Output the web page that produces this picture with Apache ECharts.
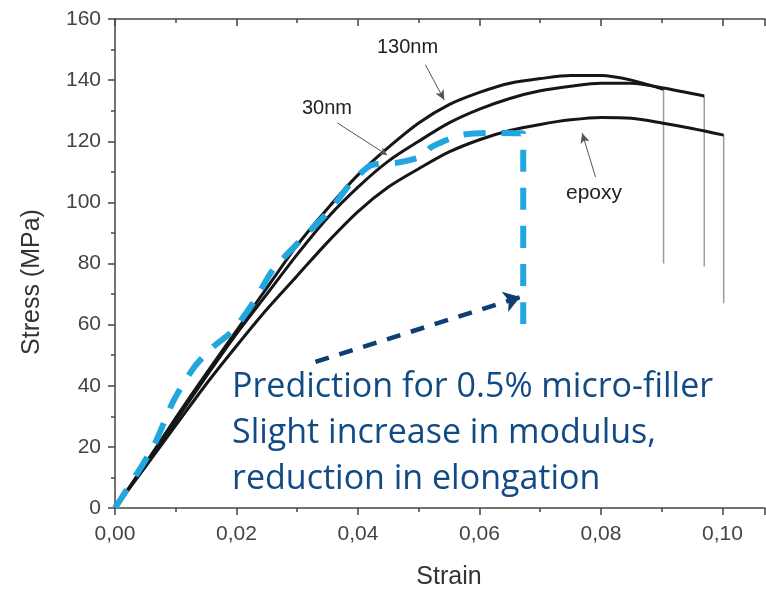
<!DOCTYPE html>
<html>
<head>
<meta charset="utf-8">
<script src="https://cdn.jsdelivr.net/npm/echarts@6/dist/echarts.min.js"></script>
<style>
  html, body { margin: 0; padding: 0; background: #fff; }
  #main { width: 766px; height: 590px; }
</style>
</head>
<body>
<div id="main"></div>
<script>
// measured curves (strain, MPa)
var nm130Strain = [0, 0.005, 0.01, 0.015, 0.02, 0.025, 0.03, 0.035, 0.04, 0.045, 0.05, 0.055, 0.06, 0.065, 0.07, 0.075, 0.08, 0.085, 0.0903]
var nm130Stress = [0, 14.5, 29.5, 44, 58, 72, 86, 98, 109, 118, 126, 132, 136, 139, 140.5, 141.5, 141.5, 140, 137]

var nm30Strain = [0, 0.005, 0.01, 0.015, 0.02, 0.025, 0.03, 0.035, 0.04, 0.045, 0.05, 0.055, 0.06, 0.065, 0.07, 0.075, 0.08, 0.085, 0.09, 0.097]
var nm30Stress = [0, 14, 28.5, 43, 57, 70, 83, 95, 105, 113.5, 120, 126, 130.5, 134, 136.5, 138, 139, 139, 137.5, 134.8]

var epoxyStrain = [0, 0.005, 0.01, 0.015, 0.02, 0.025, 0.03, 0.035, 0.04, 0.045, 0.05, 0.055, 0.06, 0.065, 0.07, 0.075, 0.08, 0.085, 0.09, 0.095, 0.1002]
var epoxyStress = [0, 13.5, 27, 40.5, 53, 65, 76, 87, 97, 105, 111, 116.5, 120.5, 123.5, 125.5, 127, 127.8, 127.5, 126, 124.2, 122]

// failure drop lines: strain, top, bottom
var dropStrain = [0.0903, 0.097, 0.1002]
var dropTop = [137, 134.8, 122]
var dropBottom = [80, 79, 67]

// prediction (dashed blue)
var predStrain = [0, 0.0063, 0.0096, 0.013, 0.016, 0.0194, 0.0227, 0.026, 0.031, 0.0354, 0.0387, 0.042, 0.0465, 0.0505, 0.052, 0.0568, 0.0613, 0.0672, 0.0672]
var predStress = [0, 20, 35, 46, 52.5, 58, 67, 78, 88.5, 97.5, 106, 112, 113, 115, 118, 122, 122.7, 122.5, 56]

var xTicks = [0, 0.02, 0.04, 0.06, 0.08, 0.10]
var yTicks = [0, 20, 40, 60, 80, 100, 120, 140, 160]

function pairs(xs, ys) {
  return xs.map(function (x, i) { return [x, ys[i]] })
}

var dropData = []
dropStrain.forEach(function (x, i) {
  dropData.push([x, dropTop[i]], [x, dropBottom[i]], [null, null])
})

var myChart = echarts.init(document.getElementById('main'))
var axisColor = '#444'
var labelFont = 'Liberation Sans'

var option = {
  animation: false,
  grid: { left: 115, right: 1, top: 19, bottom: 82 },
  xAxis: [{
    type: 'value',
    min: 0,
    max: 0.107,
    interval: 0.02,
    axisLine: { lineStyle: { color: axisColor, width: 1.5 } },
    axisTick: { length: 7, lineStyle: { color: axisColor, width: 1.5 } },
    minorTick: { show: true, splitNumber: 2, length: 4, lineStyle: { color: axisColor, width: 1.5 } },
    splitLine: { show: false },
    axisLabel: {
      showMaxLabel: false,
      margin: 16,
      fontSize: 21,
      color: '#444',
      fontFamily: labelFont,
      formatter: function (v) {
        if (xTicks.indexOf(Math.round(v * 100) / 100) < 0) return ''
        return v.toFixed(2).replace('.', ',')
      }
    }
  }, {
    type: 'value',
    position: 'top',
    min: 0,
    max: 0.107,
    interval: 0.02,
    axisLine: { lineStyle: { color: axisColor, width: 1.5 } },
    axisTick: { inside: true, length: 7, lineStyle: { color: axisColor, width: 1.5 } },
    minorTick: { show: true, splitNumber: 2, length: 4, lineStyle: { color: axisColor, width: 1.5 } },
    splitLine: { show: false },
    axisLabel: { show: false }
  }],
  yAxis: {
    type: 'value',
    min: 0,
    max: 160,
    interval: 20,
    axisLine: { show: true, lineStyle: { color: axisColor, width: 1.5 } },
    axisTick: { show: true, length: 7, lineStyle: { color: axisColor, width: 1.5 } },
    minorTick: { show: true, splitNumber: 2, length: 4, lineStyle: { color: axisColor, width: 1.5 } },
    splitLine: { show: false },
    axisLabel: {
      margin: 14,
      fontSize: 21,
      color: '#444',
      fontFamily: labelFont,
      formatter: function (v) { return yTicks.indexOf(v) >= 0 ? String(v) : '' }
    }
  },
  series: [
    {
      name: 'drop',
      type: 'line',
      data: dropData,
      connectNulls: false,
      showSymbol: false,
      lineStyle: { color: '#9c9c9c', width: 1.5 },
      z: 1
    },
    {
      name: '130nm',
      type: 'line',
      smooth: 0.3,
      data: pairs(nm130Strain, nm130Stress),
      showSymbol: false,
      lineStyle: { color: '#161616', width: 3 },
      markLine: {
        silent: true,
        symbol: ['none', 'arrow'],
        symbolSize: [7, 10],
        label: { show: false },
        lineStyle: { color: '#555', width: 1, type: 'solid' },
        data: [[{ coord: [0.0511, 145] }, { coord: [0.0542, 133.5] }]]
      }
    },
    {
      name: '30nm',
      type: 'line',
      smooth: 0.3,
      data: pairs(nm30Strain, nm30Stress),
      showSymbol: false,
      lineStyle: { color: '#161616', width: 3 },
      markLine: {
        silent: true,
        symbol: ['none', 'arrow'],
        symbolSize: [6, 8],
        label: { show: false },
        lineStyle: { color: '#555', width: 1, type: 'solid' },
        data: [[{ coord: [0.0366, 126] }, { coord: [0.0448, 115.5] }]]
      }
    },
    {
      name: 'epoxy',
      type: 'line',
      smooth: 0.3,
      data: pairs(epoxyStrain, epoxyStress),
      showSymbol: false,
      lineStyle: { color: '#161616', width: 3 },
      markLine: {
        silent: true,
        symbol: ['none', 'arrow'],
        symbolSize: [7, 10],
        label: { show: false },
        lineStyle: { color: '#555', width: 1, type: 'solid' },
        data: [[{ coord: [0.0791, 108.3] }, { coord: [0.0769, 122.7] }]]
      }
    },
    {
      name: 'prediction',
      type: 'line',
      smooth: 0.2,
      data: pairs(predStrain, predStress),
      showSymbol: false,
      lineStyle: { color: '#22a6e0', width: 6, type: [22, 16] },
      z: 5,
      markLine: {
        silent: true,
        symbol: ['none', 'arrow'],
        symbolSize: [16, 16],
        label: { show: false },
        lineStyle: { color: '#0f3e72', width: 4.5, type: [14, 11] },
        data: [[{ coord: [0.033, 47.8] }, { coord: [0.0667, 69] }]]
      }
    }
  ],
  graphic: [
    // axis titles
    { type: 'text', x: 449, y: 577, style: { text: 'Strain', font: '25px "Liberation Sans"', fill: '#333', align: 'center', verticalAlign: 'middle' } },
    { type: 'text', x: 32, y: 282, rotation: Math.PI / 2, style: { text: 'Stress (MPa)', font: '25px "Liberation Sans"', fill: '#333', align: 'center', verticalAlign: 'middle' } },
    // curve labels
    { type: 'text', left: 377, top: 37, style: { text: '130nm', font: '20px "Liberation Sans"', fill: '#222' } },
    { type: 'text', left: 302, top: 98, style: { text: '30nm', font: '20px "Liberation Sans"', fill: '#222' } },
    { type: 'text', left: 566, top: 183, style: { text: 'epoxy', font: '21px "Liberation Sans"', fill: '#222' } },
    {
      type: 'text', left: 232, top: 364,
      style: {
        text: 'Prediction for 0.5% micro-filler\nSlight increase in modulus,\nreduction in elongation',
        font: '34px "Open Sans"',
        fill: '#124a86',
        lineHeight: 46
      }
    }
  ]
}
myChart.setOption(option)
</script>
</body>
</html>
